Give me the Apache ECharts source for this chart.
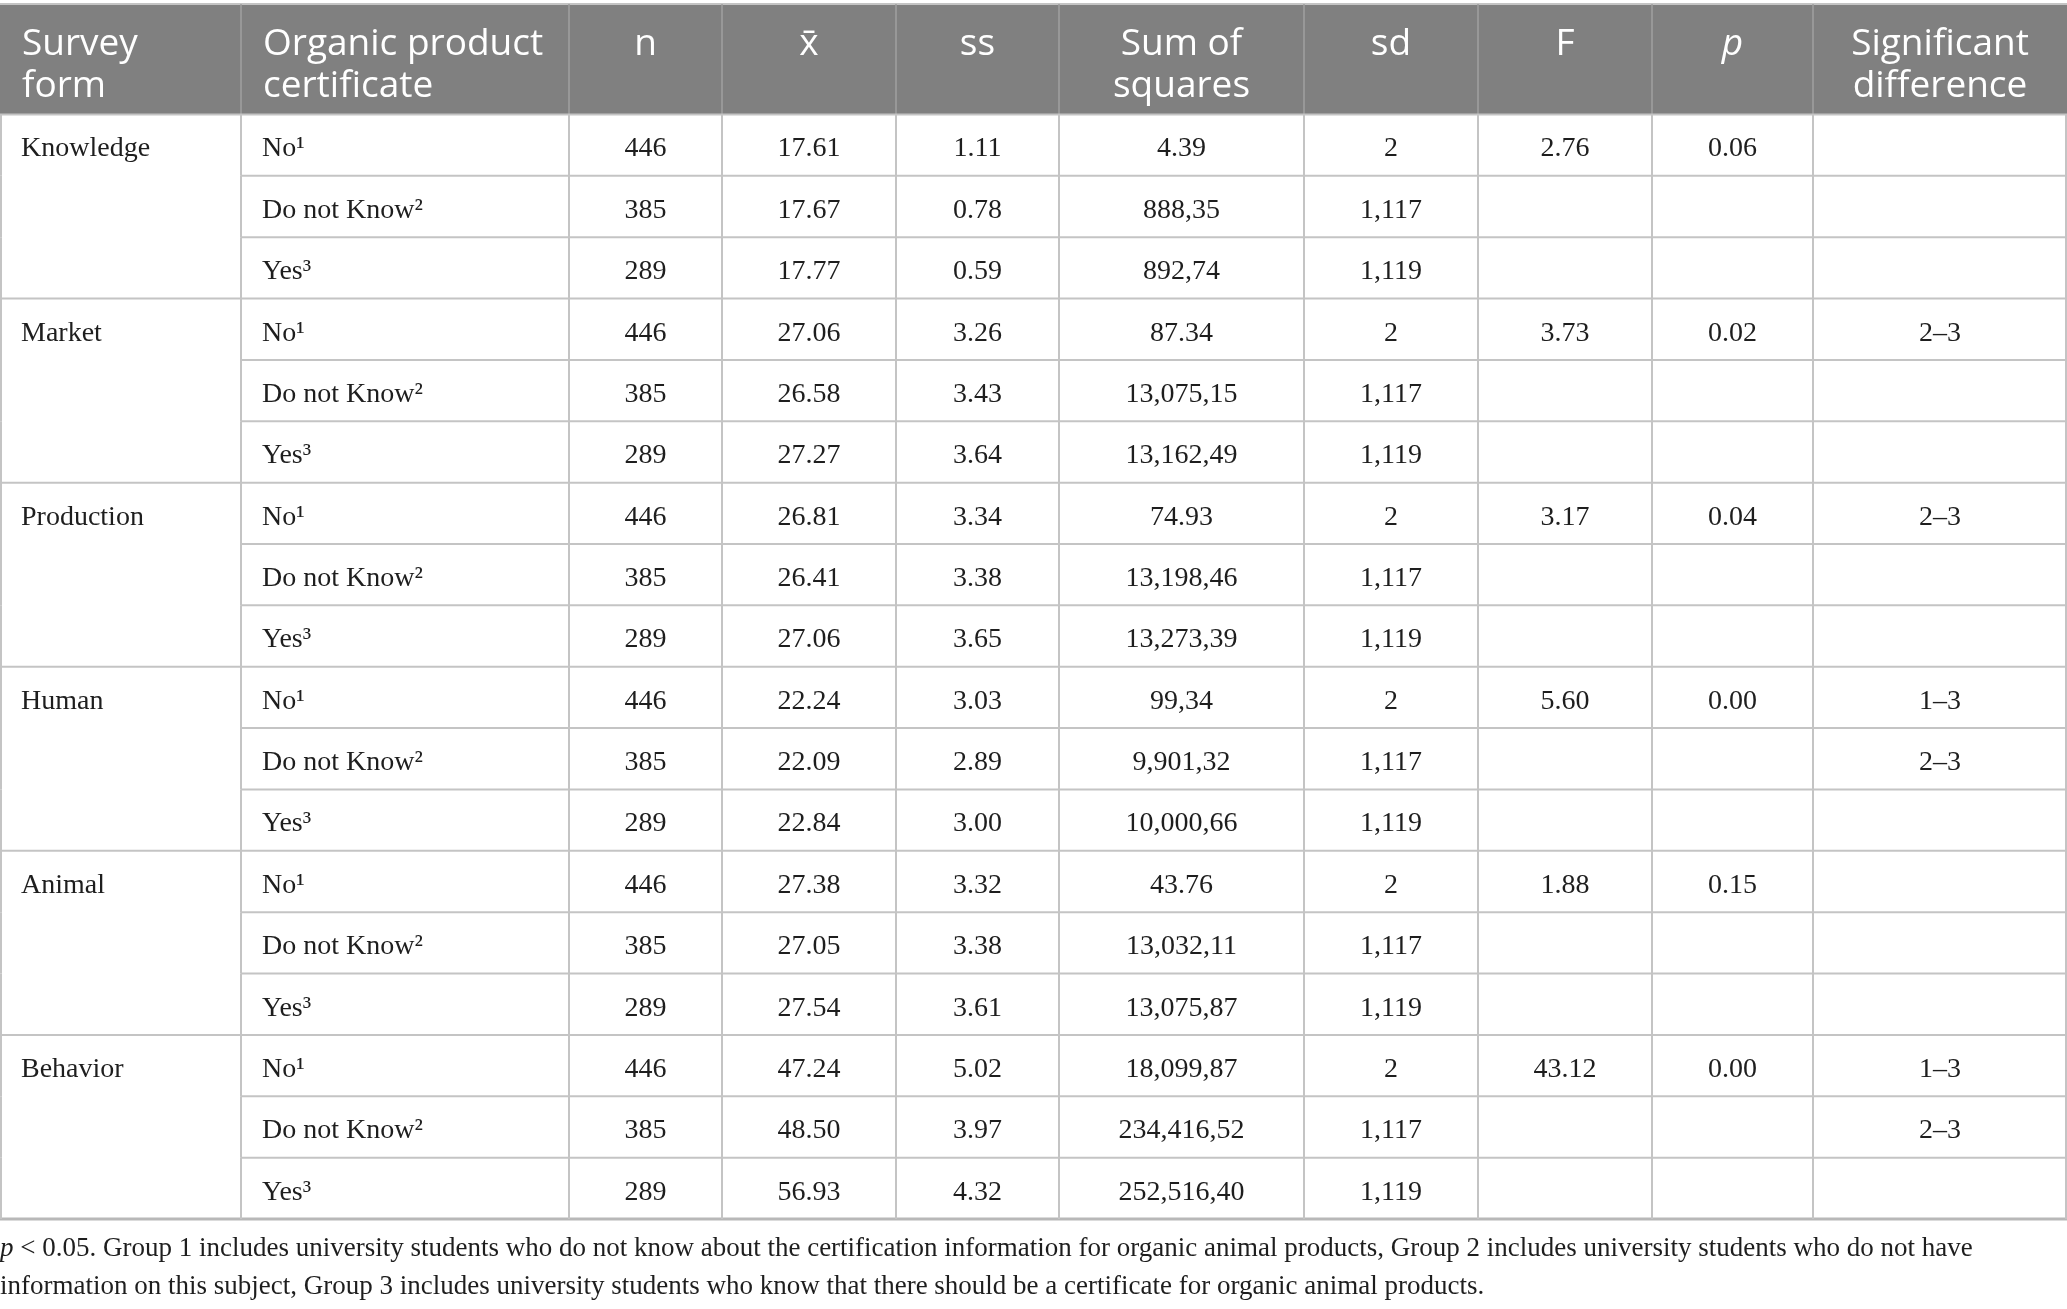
<!DOCTYPE html>
<html lang="en">
<head>
    <meta charset="UTF-8">
    <title>Survey form by organic product certificate</title>
    <script src="https://cdn.jsdelivr.net/npm/echarts@6/dist/echarts.min.js"></script>
    <style>
        html, body {
            margin: 0;
            padding: 0;
            background: #ffffff;
        }

        #table {
            width: 2067px;
            height: 1309px;
        }
    </style>
</head>
<body>
    <div id="table"></div>
    <script>
        // table data
        const headers = ['Survey\nform', 'Organic product\ncertificate', 'n', 'x\u0304', 'ss', 'Sum of\nsquares', 'sd', 'F', 'p', 'Significant\ndifference'];
        const surveyForms = ['Knowledge', 'Market', 'Production', 'Human', 'Animal', 'Behavior'];
        const certificates = ['No¹', 'Do not Know²', 'Yes³'];
        const nValues = ['446', '385', '289'];
        const meanValues = [
            ['17.61', '17.67', '17.77'],
            ['27.06', '26.58', '27.27'],
            ['26.81', '26.41', '27.06'],
            ['22.24', '22.09', '22.84'],
            ['27.38', '27.05', '27.54'],
            ['47.24', '48.50', '56.93']
        ];
        const ssValues = [
            ['1.11', '0.78', '0.59'],
            ['3.26', '3.43', '3.64'],
            ['3.34', '3.38', '3.65'],
            ['3.03', '2.89', '3.00'],
            ['3.32', '3.38', '3.61'],
            ['5.02', '3.97', '4.32']
        ];
        const sumSquares = [
            ['4.39', '888,35', '892,74'],
            ['87.34', '13,075,15', '13,162,49'],
            ['74.93', '13,198,46', '13,273,39'],
            ['99,34', '9,901,32', '10,000,66'],
            ['43.76', '13,032,11', '13,075,87'],
            ['18,099,87', '234,416,52', '252,516,40']
        ];
        const sdValues = ['2', '1,117', '1,119'];
        const fValues = ['2.76', '3.73', '3.17', '5.60', '1.88', '43.12'];
        const pValues = ['0.06', '0.02', '0.04', '0.00', '0.15', '0.00'];
        const sigDiff = [[], ['2–3'], ['2–3'], ['1–3', '2–3'], [], ['1–3', '2–3']];
        const footnote = 'p';
        const footnoteRest = ' < 0.05. Group 1 includes university students who do not know about the certification information for organic animal products, Group 2 includes university students who do not have\ninformation on this subject, Group 3 includes university students who know that there should be a certificate for organic animal products.';

        // layout
        const colEdges = [0, 241, 569, 722, 896, 1059, 1304, 1478, 1652, 1813, 2067];
        const headerSpan = 1.8;
        const lineColor = '#c4c4c4';
        const serif = '"Liberation Serif", "DejaVu Serif", serif';
        const sans = '"Open Sans", "Noto Sans", sans-serif';

        // build body rows (18 rows of text)
        const bodyRows = [];
        surveyForms.forEach((form, g) => {
            for (let k = 0; k < 3; k++) {
                bodyRows.push([
                    k === 0 ? form : '',
                    certificates[k],
                    nValues[k],
                    meanValues[g][k],
                    ssValues[g][k],
                    sumSquares[g][k],
                    sdValues[k],
                    k === 0 ? fValues[g] : '',
                    k === 0 ? pValues[g] : '',
                    sigDiff[g][k] || ''
                ]);
            }
        });

        const seriesData = [[-headerSpan, 0, -1]];
        bodyRows.forEach((r, i) => seriesData.push([i, i + 1, i]));

        function renderRow(params, api) {
            const y0 = api.coord([0, api.value(0)])[1];
            const y1 = api.coord([0, api.value(1)])[1];
            const idx = api.value(2);
            const xs = colEdges.map(e => api.coord([e, 0])[0]);
            const children = [];

            if (idx < 0) {
                children.push({
                    type: 'rect',
                    shape: { x: xs[0], y: y0, width: xs[10] - xs[0], height: y1 - y0 },
                    style: { fill: '#808080' }
                });
                children.push({
                    type: 'line',
                    shape: { x1: xs[0], y1: y0, x2: xs[10], y2: y0 },
                    style: { stroke: lineColor, lineWidth: 2 }
                });
                for (let c = 1; c < 10; c++) {
                    children.push({
                        type: 'line',
                        shape: { x1: xs[c], y1: y0, x2: xs[c], y2: y1 },
                        style: { stroke: '#a0a0a0', lineWidth: 1.5 }
                    });
                }
                headers.forEach((h, c) => {
                    const left = c < 2;
                    children.push({
                        type: 'text',
                        style: {
                            text: h,
                            x: left ? xs[c] + 22 : (xs[c] + xs[c + 1]) / 2,
                            y: y0 + 19,
                            fill: '#ffffff',
                            fontSize: 37,
                            fontFamily: sans,
                            fontStyle: c === 8 ? 'italic' : 'normal',
                            lineHeight: 42,
                            align: left ? 'left' : 'center',
                            verticalAlign: 'top'
                        }
                    });
                });
                return { type: 'group', children: children };
            }

            const row = bodyRows[idx];
            const groupStart = idx % 3 === 0;
            // top line
            children.push({
                type: 'line',
                shape: { x1: groupStart ? xs[0] : xs[1], y1: y0, x2: xs[10], y2: y0 },
                style: { stroke: lineColor, lineWidth: 2 }
            });
            if (idx === bodyRows.length - 1) {
                children.push({
                    type: 'line',
                    shape: { x1: xs[0], y1: y1, x2: xs[10], y2: y1 },
                    style: { stroke: '#b8b8b8', lineWidth: 3 }
                });
            }
            // vertical lines
            for (let c = 0; c <= 10; c++) {
                const x = c === 0 ? xs[0] + 1 : (c === 10 ? xs[10] - 1 : xs[c]);
                children.push({
                    type: 'line',
                    shape: { x1: x, y1: y0, x2: x, y2: y1 },
                    style: { stroke: lineColor, lineWidth: 2 }
                });
            }
            row.forEach((t, c) => {
                if (!t) return;
                const left = c < 2;
                children.push({
                    type: 'text',
                    style: {
                        text: t,
                        x: left ? xs[c] + 21 : (xs[c] + xs[c + 1]) / 2,
                        y: (y0 + y1) / 2 + 4,
                        fill: '#1e1e1e',
                        fontSize: 28,
                        fontFamily: serif,
                        align: left ? 'left' : 'center',
                        verticalAlign: 'middle'
                    }
                });
            });
            return { type: 'group', children: children };
        }

        const chart = echarts.init(document.getElementById('table'));
        chart.setOption({
            animation: false,
            title: {
                text: '{i|' + footnote + '}{r|' + footnoteRest.replace('\n', '}\n{r|') + '}',
                left: 0,
                top: 1230,
                padding: 0,
                textStyle: {
                    fontFamily: serif,
                    fontSize: 27,
                    fontWeight: 'normal',
                    color: '#1e1e1e',
                    lineHeight: 38,
                    rich: {
                        i: { fontFamily: serif, fontSize: 27, fontStyle: 'italic', color: '#1e1e1e', lineHeight: 38 },
                        r: { fontFamily: serif, fontSize: 27, color: '#1e1e1e', lineHeight: 38 }
                    }
                }
            },
            grid: { left: 0, right: 0, top: 4, bottom: 90 },
            xAxis: {
                type: 'value',
                min: 0,
                max: 2067,
                show: false
            },
            yAxis: {
                type: 'value',
                inverse: true,
                min: -headerSpan,
                max: bodyRows.length,
                show: false
            },
            series: [{
                type: 'custom',
                renderItem: renderRow,
                encode: { y: [0, 1] },
                data: seriesData,
                clip: false,
                silent: true
            }]
        });

        window.addEventListener('resize', () => chart.resize());
    </script>
</body>
</html>
